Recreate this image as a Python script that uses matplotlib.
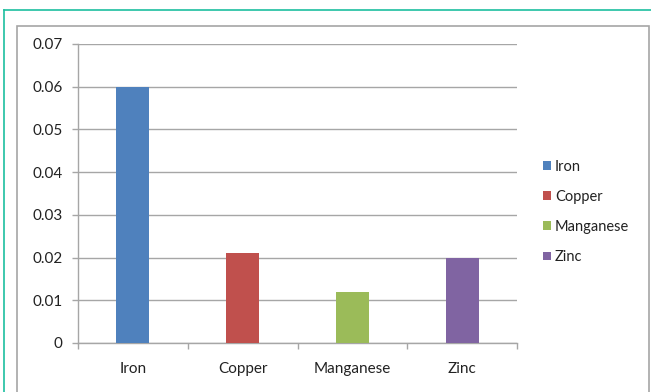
import matplotlib.pyplot as plt
from matplotlib.lines import Line2D
from matplotlib.patches import Rectangle
import numpy as np

plt.rcParams['font.family'] = ['Lato', 'DejaVu Sans']

categories = ['Iron', 'Copper', 'Manganese', 'Zinc']
values = [0.06, 0.021, 0.012, 0.02]
colors = ['#4F81BD', '#C0504D', '#9BBB59', '#8064A2']
yticks = [0, 0.01, 0.02, 0.03, 0.04, 0.05, 0.06, 0.07]

W, H = 651, 392
fig = plt.figure(figsize=(W / 100, H / 100), dpi=100)

# outer teal frame (top and left only)
fig.add_artist(Line2D([4 / W, 1], [1 - 10 / H, 1 - 10 / H], color='#1DBF9F', lw=1.2))
fig.add_artist(Line2D([4 / W, 4 / W], [0, 1 - 10 / H], color='#1DBF9F', lw=1.2))
# chart border
fig.add_artist(Rectangle((17 / W, -0.01), (649 - 17) / W, 1.01 - 26 / H,
                         fill=False, edgecolor='#A6A6A6', lw=1.2))

ax = fig.add_axes([78 / W, 1 - 343 / H, (517 - 78) / W, (343 - 44) / H])
x = np.arange(len(categories))
for i in range(len(categories)):
    ax.bar(x[i], values[i], width=0.3, color=colors[i], label=categories[i], zorder=3)

ax.set_xlim(-0.5, len(categories) - 0.5)
ax.set_ylim(0, 0.07)
ax.set_yticks(yticks)
ax.set_yticklabels(['0', '0.01', '0.02', '0.03', '0.04', '0.05', '0.06', '0.07'])
ax.set_xticks(x)
ax.set_xticklabels(categories)
ax.set_xticks(np.arange(-0.5, len(categories), 1), minor=True)
ax.tick_params(axis='x', which='major', length=0, pad=14, labelsize=11, colors='#222222')
ax.tick_params(axis='x', which='minor', length=4, color='#A6A6A6', width=1)
ax.tick_params(axis='y', length=4, color='#A6A6A6', width=1, pad=7, labelsize=11, colors='#222222')
ax.grid(axis='y', color='#A6A6A6', lw=1, zorder=0)
for s in ['top', 'right']:
    ax.spines[s].set_visible(False)
for s in ['left', 'bottom']:
    ax.spines[s].set_color('#A6A6A6')
    ax.spines[s].set_linewidth(1)

ax.legend(loc='center left', bbox_to_anchor=(530 / W, 1 - 212 / H), bbox_transform=fig.transFigure,
          frameon=False, handlelength=0.55, handleheight=0.55, handletextpad=0.25,
          labelspacing=1.1, fontsize=10.5, labelcolor='#222222')

fig.savefig('out.png', dpi=100)
